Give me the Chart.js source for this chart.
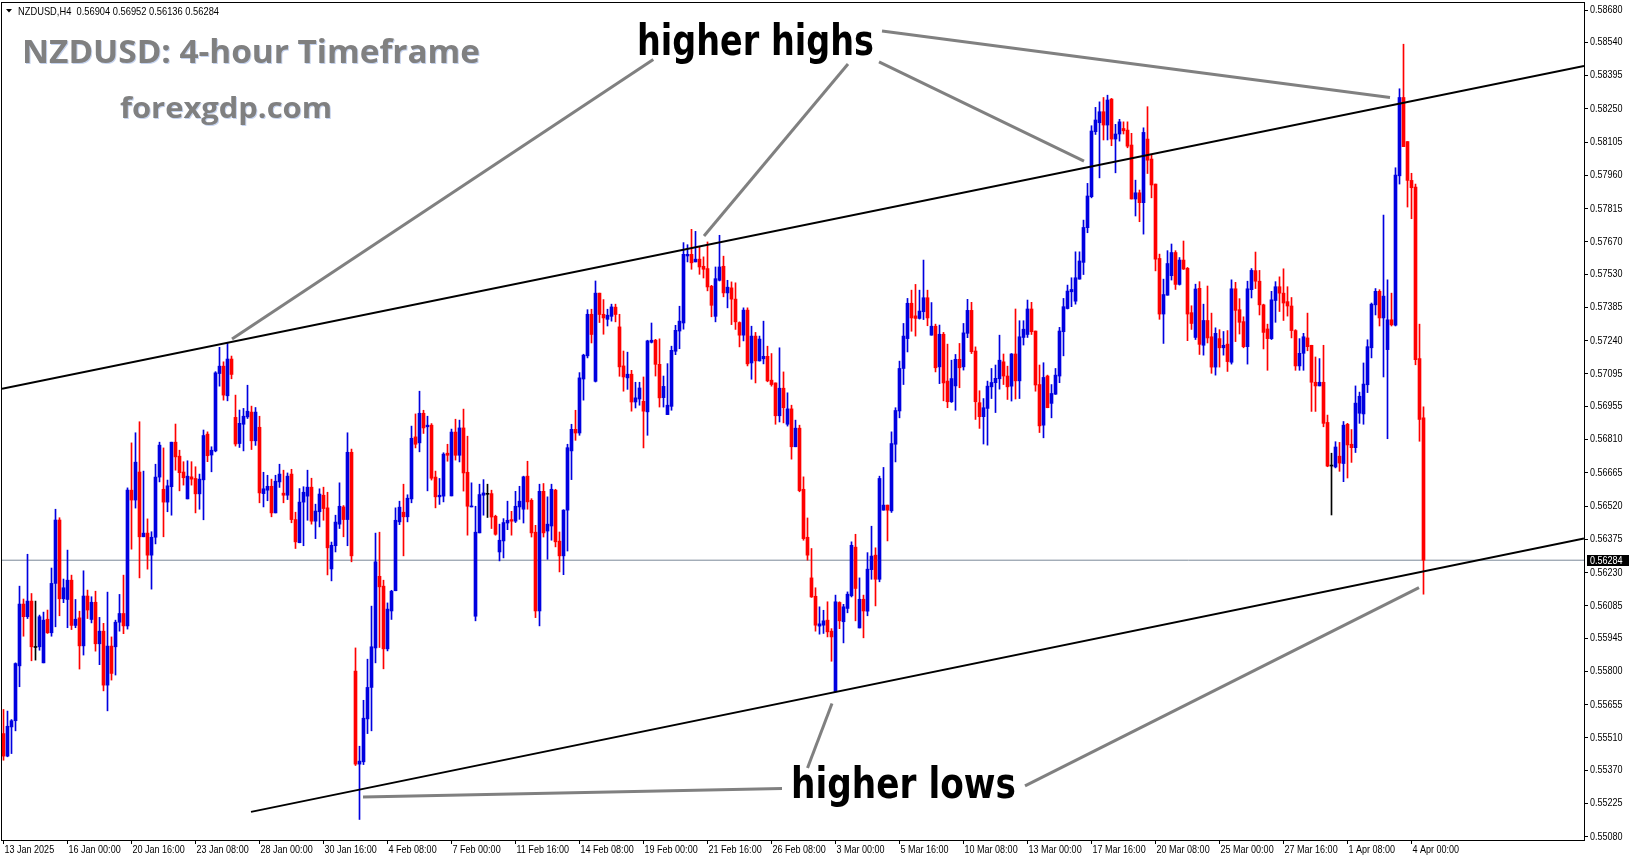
<!DOCTYPE html>
<html>
<head>
<meta charset="utf-8">
<title>NZDUSD H4</title>
<script src="https://cdn.jsdelivr.net/npm/chart.js@4.4.1/dist/chart.umd.min.js"></script>
<style>
  html, body { margin: 0; padding: 0; background: #fff; }
  #wrap { width: 1631px; height: 861px; }
</style>
</head>
<body>
<div id="wrap"><canvas id="nzdusd" width="1631" height="861"></canvas></div>
<script>
// NZDUSD H4 candles, prices in points (1 point = 0.00001)
const symbol = "NZDUSD,H4";

const openPts = [
  55529,55431,55558,55585,55824,56093,56038,56106,55904,55907,
  55837,56027,55968,56183,56459,56116,56113,56197,56000,56033,
  55911,56128,56026,56101,55920,55975,55740,55910,55907,56014,
  56052,55998,56589,56546,56668,56386,56402,56306,56384,56646,
  56593,56537,56604,56798,56737,56668,56551,56647,56640,56573,
  56634,56833,56742,56760,57097,57129,57000,57160,56906,56792,
  56876,56908,56929,56804,56863,56574,56589,56606,56490,56625,
  56576,56567,56659,56461,56360,56537,56563,56602,56454,56495,
  56567,56512,56246,56347,56441,56516,56461,56754,55801,55396,
  55406,55593,55730,55902,56214,56171,55898,56063,56151,56451,
  56493,56473,56551,56821,56795,56924,56865,56872,56646,56560,
  56563,56750,56564,56842,56741,56860,56667,56516,56040,56403,
  56567,56571,56574,56475,56320,56368,56446,56461,56454,56516,
  56506,56650,56545,56406,56063,56584,56411,56433,56589,56367,
  56303,56502,56760,56854,56838,57073,57174,57355,57063,57447,
  57355,57333,57346,57386,57300,57130,57078,57094,56973,56986,
  56976,56930,57233,57242,57137,56992,56918,56954,57194,57282,
  57317,57609,57616,57583,57595,57564,57554,57477,57346,57503,
  57564,57448,57470,57421,57319,57264,57373,57143,57260,57152,
  57161,57172,57068,57056,56913,57033,56876,56943,56778,56859,
  56593,56384,56207,56127,55997,56001,56023,55975,55711,56100,
  56016,56074,56129,56341,55989,56114,56062,56243,56306,56201,
  56502,56524,56499,56789,56934,57119,57249,57403,57348,57337,
  57366,57427,57264,57303,57126,57268,57064,56974,57043,57159,
  57126,57272,57372,57195,56970,56909,56945,57039,57057,57074,
  57148,57086,57042,57182,57065,57254,57267,57378,57282,57049,
  56872,57086,56967,57007,57086,57279,57380,57453,57412,57508,
  57581,57732,57867,58150,58189,58237,58179,58292,58118,58140,
  58164,58157,58092,57857,57884,57841,58118,58031,57922,57598,
  57356,57438,57523,57624,57485,57591,57555,57362,57254,57468,
  57220,57328,57257,57125,57249,57209,57225,57146,57466,57375,
  57323,57214,57462,57545,57499,57396,57291,57249,57415,57475,
  57447,57410,57391,57284,57130,57185,57252,57220,57059,57043,
  57059,56884,56694,56690,56737,56705,56876,56789,56774,56924,
  56921,57048,57209,57396,57455,57339,57201,57331,57307,57958,
  58299,58107,57938,57909,57162,56904
];

const highPts = [
  55634,55627,55590,55837,56171,56115,56310,56139,56106,56045,
  56058,56067,56250,56506,56469,56202,56328,56219,56113,56062,
  56238,56154,56125,56149,56035,56009,56145,55950,56023,56135,
  56219,56599,56795,56839,56887,56672,56464,56408,56702,56798,
  56773,56633,56798,56877,56763,56713,56717,56713,56691,56659,
  56851,56843,56778,57105,57211,57148,57228,57173,57003,56938,
  56945,57046,56955,56949,56911,56667,56654,56637,56654,56702,
  56676,56664,56680,56493,56596,56604,56676,56641,56528,56595,
  56602,56580,56363,56480,56621,56522,56839,56768,55902,55474,
  55674,55853,56084,56402,56406,56197,56098,56153,56512,56541,
  56615,56569,56868,56921,57020,56937,56911,56879,56672,56640,
  56752,56789,56855,56898,56894,56942,56824,56621,56519,56615,
  56635,56615,56589,56480,56441,56465,56541,56497,56584,56606,
  56650,56715,56552,56436,56615,56618,56560,56615,56593,56407,
  56504,56789,56876,56937,57101,57181,57375,57377,57500,57447,
  57419,57377,57399,57399,57355,57195,57190,57111,57059,57059,
  57082,57242,57317,57246,57248,57086,57140,57216,57307,57390,
  57667,57658,57725,57716,57648,57605,57670,57481,57561,57699,
  57608,57503,57496,57492,57322,57383,57383,57303,57276,57260,
  57325,57216,57184,57056,57209,57104,57013,56959,56894,56872,
  56647,56468,56335,56164,56081,56066,56103,55986,56132,56103,
  56092,56146,56364,56397,56207,56132,56317,56432,56338,56650,
  56688,56524,56843,56948,57151,57315,57424,57460,57485,57460,
  57591,57460,57406,57312,57308,57276,57225,57155,57180,57228,
  57315,57420,57407,57213,57022,56988,57064,57119,57134,57264,
  57182,57129,57184,57378,57327,57327,57417,57407,57282,57134,
  57144,57090,57049,57119,57298,57424,57482,57514,57627,57627,
  57765,57925,58176,58256,58280,58299,58309,58295,58182,58204,
  58193,58193,58143,57939,57896,58167,58259,58048,57922,57617,
  57508,57632,57661,57632,57602,57674,57559,57392,57486,57497,
  57399,57478,57360,57296,57288,57280,57284,57505,57494,57423,
  57344,57499,57554,57626,57546,57399,57312,57455,57497,57518,
  57553,57475,57428,57288,57249,57272,57360,57220,57169,57162,
  57220,56916,56750,56800,56797,56888,56880,56853,57043,57016,
  57143,57244,57404,57467,57462,57787,57505,57447,57993,58337,
  58531,58107,57969,57922,57312,56952
];

const lowPts = [
  55413,55428,55442,55541,55733,55953,56030,55846,55849,55892,
  55837,55965,55953,55994,56042,56099,55990,55982,55990,55810,
  55871,56030,56011,55888,55829,55715,55628,55762,55784,55975,
  55964,55984,56332,56511,56207,56386,56245,56158,56355,56625,
  56386,56495,56480,56676,56586,56611,56551,56611,56490,56506,
  56460,56713,56669,56756,57042,56981,56978,57074,56781,56775,
  56760,56901,56766,56784,56534,56516,56543,56473,56490,56601,
  56534,56548,56447,56335,56360,56347,56458,56441,56378,56429,
  56458,56220,56194,56320,56422,56386,56347,56277,55390,55155,
  55394,55529,55541,55837,55904,55811,55889,56026,56151,56439,
  56303,56451,56534,56773,56756,56836,56586,56633,56512,56527,
  56538,56715,56564,56720,56712,56585,56393,56516,56020,56403,
  56480,56470,56422,56393,56281,56294,56417,56393,56448,56462,
  56446,56506,56385,56034,55998,56385,56288,56371,56342,56233,
  56221,56324,56635,56806,56828,56981,57165,57230,57060,57319,
  57268,57304,57325,57322,57085,57020,57028,56933,56947,56959,
  56773,56828,57230,57086,56951,56951,56918,56937,57179,57205,
  57290,57583,57551,57583,57529,57513,57457,57344,57322,57500,
  57431,57383,57310,57289,57213,57239,57130,57072,57056,57151,
  57139,57061,57042,56876,56886,56882,56868,56724,56778,56582,
  56371,56284,56122,55975,55962,55965,55950,55844,55711,55986,
  55924,56055,56124,56020,55989,55946,56042,56201,56085,56190,
  56502,56368,56492,56712,56904,57049,57191,57281,57260,57334,
  57332,57305,57264,57104,57053,56978,56948,56971,56937,57035,
  57112,57253,57184,56897,56858,56790,56785,56988,56927,57029,
  57049,56984,56977,56986,56988,57221,57254,57267,57020,56840,
  56817,56948,56904,57006,57057,57174,57378,57388,57399,57508,
  57528,57710,57862,58138,57949,58114,58114,58089,57971,58109,
  58140,58080,57857,57783,57758,57704,57968,57862,57544,57333,
  57228,57438,57504,57463,57482,57550,57240,57289,57245,57180,
  57177,57230,57098,57090,57125,57177,57106,57138,57236,57269,
  57209,57138,57426,57467,57352,57204,57111,57245,57320,57367,
  57328,57347,57252,57111,57111,57111,57196,56932,56932,57043,
  56865,56691,56481,56686,56671,56626,56642,56710,56753,56880,
  56876,57014,57165,57352,57304,57082,56813,57304,57304,57922,
  58085,57822,57771,57135,56802,56136
];

const closePts = [
  55431,55561,55585,55834,56093,56038,56106,55907,55904,56038,
  56023,55968,56183,56459,56116,56164,56197,56000,56027,55911,
  56128,56067,56101,55920,55975,55740,55910,55791,56014,56052,
  55998,56589,56546,56711,56386,56402,56306,56384,56646,56785,
  56537,56608,56798,56734,56665,56643,56650,56637,56573,56637,
  56827,56739,56763,57100,57129,57003,57160,57093,56790,56880,
  56911,56933,56804,56929,56577,56595,56606,56490,56628,56659,
  56567,56650,56461,56364,56537,56580,56602,56454,56498,56572,
  56509,56338,56349,56450,56519,56461,56754,56303,55396,55409,
  55596,55730,55907,56277,56168,55898,56071,56149,56458,56515,
  56473,56554,56815,56789,56924,56860,56872,56641,56560,56567,
  56746,56741,56842,56741,56860,56664,56519,56519,56406,56570,
  56577,56571,56472,56397,56371,56448,56458,56454,56519,56541,
  56647,56538,56403,56063,56584,56403,56441,56593,56364,56303,
  56502,56774,56854,56838,57078,57177,57355,57267,57447,57354,
  57339,57351,57387,57354,57126,57082,57094,56973,56991,57034,
  56933,57239,57242,57137,56991,57041,56959,57198,57285,57325,
  57616,57616,57579,57595,57561,57551,57474,57394,57510,57561,
  57448,57473,57421,57322,57264,57373,57139,57260,57152,57247,
  57172,57065,57049,56913,57033,56948,56943,56778,56859,56587,
  56378,56306,56124,56001,56007,56020,55972,55950,56103,56020,
  56081,56136,56349,56161,56114,56063,56245,56302,56201,56640,
  56524,56502,56792,56936,57119,57260,57403,57339,57337,57369,
  57427,57339,57303,57122,57268,57056,56974,57075,57159,57122,
  57274,57372,57192,56974,56909,56948,57042,57058,57076,57155,
  57086,57039,57182,57065,57257,57290,57378,57279,57047,56869,
  57080,56948,57010,57090,57282,57388,57456,57463,57514,57587,
  57733,57870,58153,58201,58237,58179,58288,58118,58140,58193,
  58154,58087,57857,57884,57841,58147,58026,57918,57595,57356,
  57441,57576,57624,57485,57591,57552,57356,57315,57465,57224,
  57328,57252,57125,57272,57209,57220,57149,57466,57372,57320,
  57214,57466,57546,57499,57396,57276,57249,57418,57475,57447,
  57404,57391,57284,57130,57185,57257,57214,57059,57043,57059,
  56880,56694,56694,56777,56707,56872,56786,56774,56968,56998,
  57051,57214,57399,57455,57339,57434,57331,57309,57961,58299,
  58085,57938,57906,57157,56897,56284
];

// one label every 16 bars, starting at bar 0
const dateLabels = [
  "13 Jan 2025", "16 Jan 00:00", "20 Jan 16:00", "23 Jan 08:00", "28 Jan 00:00",
  "30 Jan 16:00", "4 Feb 08:00", "7 Feb 00:00", "11 Feb 16:00", "14 Feb 08:00",
  "19 Feb 00:00", "21 Feb 16:00", "26 Feb 08:00", "3 Mar 00:00", "5 Mar 16:00",
  "10 Mar 08:00", "13 Mar 00:00", "17 Mar 16:00", "20 Mar 08:00", "25 Mar 00:00",
  "27 Mar 16:00", "1 Apr 08:00", "4 Apr 00:00"
];

const priceTicks = [
  0.58680, 0.58540, 0.58395, 0.58250, 0.58105, 0.57960, 0.57815, 0.57670, 0.57530,
  0.57385, 0.57240, 0.57095, 0.56955, 0.56810, 0.56665, 0.56520, 0.56375, 0.56230,
  0.56085, 0.55945, 0.55800, 0.55655, 0.55510, 0.55370, 0.55225, 0.55080
];

// channel lines, [bar index, price]
const upperChannel = [[-0.375, 0.57031], [395.125, 0.58436]];
const lowerChannel = [[61.875, 0.55188], [395.125, 0.56379]];

// grey pointer lines from the captions to the touches
const highPointers = [
  [[57.125, 0.57247], [162.45, 0.58465]],
  [[175.125, 0.57696], [211.125, 0.58445]],
  [[218.875, 0.58454], [270.125, 0.58022]],
  [[219.625, 0.58589], [346.625, 0.58299]]
];
const lowPointers = [
  [[89.875, 0.55253], [194.625, 0.55290]],
  [[201.0, 0.55379], [207.125, 0.55660]],
  [[255.375, 0.55301], [353.875, 0.56165]]
];

const X_MIN = -0.375, X_MAX = 395.125;
const Y_MIN = 0.550656, Y_MAX = 0.587105;

const BULL = "#0000e0", BEAR = "#ff0000", DOJI = "#000000";
const SMALL_FONT = "11px 'Liberation Sans', Arial, sans-serif";
const SQUEEZE = 0.82; // terminal font is narrower than Liberation Sans

const toPrice = p => p / 100000;
const last = closePts.length - 1;
const lastClose = toPrice(closePts[last]);

const candleColors = closePts.map((c, i) =>
  c > openPts[i] ? BULL : (c < openPts[i] ? BEAR : DOJI));

const wickData = closePts.map((c, i) => ({ x: i, y: [toPrice(lowPts[i]), toPrice(highPts[i])] }));
const bodyData = closePts.map((c, i) => ({ x: i, y: [toPrice(openPts[i]), toPrice(c)] }));

const toXY = pts => pts.map(p => ({ x: p[0], y: p[1] }));

function segment(pts, color, width, order) {
  return {
    type: "line",
    data: toXY(pts),
    borderColor: color,
    borderWidth: width,
    pointRadius: 0,
    tension: 0,
    order: order
  };
}

function fitText(ctx, text, x, baseline, width, font, color) {
  ctx.font = font;
  const w = ctx.measureText(text).width;
  ctx.save();
  ctx.fillStyle = color;
  ctx.translate(x, baseline);
  ctx.scale(width / w, 1);
  ctx.fillText(text, 0, 0);
  ctx.restore();
}

function squeezed(ctx, text, x, y) {
  ctx.save();
  ctx.translate(x, y);
  ctx.scale(SQUEEZE, 1);
  ctx.fillText(text, 0, 0);
  ctx.restore();
}

const overlay = {
  id: "overlay",
  afterDraw(chart) {
    const ctx = chart.ctx;
    const a = chart.chartArea;
    const xs = chart.scales.x, ys = chart.scales.y;
    ctx.save();

    // plot frame
    ctx.strokeStyle = "#000";
    ctx.lineWidth = 1;
    ctx.strokeRect(a.left - 0.5, a.top - 0.5, a.right - a.left + 1, a.bottom - a.top + 1);

    // axis labels
    ctx.fillStyle = "#000";
    ctx.font = SMALL_FONT;
    ctx.textAlign = "left";
    ctx.textBaseline = "middle";
    xs.ticks.forEach((t, k) => squeezed(ctx, dateLabels[k], xs.getPixelForValue(t.value) + 1, a.bottom + 10));
    ys.ticks.forEach(t => squeezed(ctx, t.value.toFixed(5), a.right + 6, ys.getPixelForValue(t.value)));

    // header line
    ctx.beginPath();
    ctx.moveTo(6, 9); ctx.lineTo(12, 9); ctx.lineTo(9, 12.5); ctx.closePath();
    ctx.fill();
    ctx.textBaseline = "alphabetic";
    const ohlc = [openPts[last], highPts[last], lowPts[last], closePts[last]]
      .map(p => toPrice(p).toFixed(5)).join(" ");
    fitText(ctx, symbol + "  " + ohlc, 18, 15, 201, SMALL_FONT, "#000");

    // titles
    ctx.shadowColor = "rgba(90,130,210,0.35)";
    ctx.shadowOffsetX = 1;
    ctx.shadowOffsetY = 1;
    fitText(ctx, "NZDUSD: 4-hour Timeframe", 22, 63, 458, "bold 33px 'Open Sans'", "#808080");
    fitText(ctx, "forexgdp.com", 120, 118, 212, "bold 29px 'Open Sans'", "#808080");
    ctx.shadowColor = "transparent";

    fitText(ctx, "higher highs", 637, 55, 237, "bold 42px 'DejaVu Sans'", "#000");
    fitText(ctx, "higher lows", 791, 798, 225, "bold 42px 'DejaVu Sans'", "#000");

    // current price tag on the axis
    const y = Math.round(ys.getPixelForValue(lastClose));
    ctx.fillStyle = "#000";
    ctx.fillRect(a.right + 3, y - 5, 42, 11);
    ctx.fillStyle = "#fff";
    ctx.font = SMALL_FONT;
    ctx.textBaseline = "middle";
    squeezed(ctx, lastClose.toFixed(5), a.right + 6, y + 0.5);

    ctx.restore();
  }
};

const datasets = [
  {
    type: "bar",
    data: wickData,
    backgroundColor: candleColors,
    barThickness: 1,
    grouped: false,
    borderWidth: 0,
    order: 3
  },
  {
    type: "bar",
    data: bodyData,
    backgroundColor: candleColors,
    barThickness: 3,
    minBarLength: 1,
    grouped: false,
    borderWidth: 0,
    order: 2
  },
  segment([[X_MIN, lastClose], [X_MAX, lastClose]], "#7a8898", 1, 4),
  segment(upperChannel, "#000", 2, 1),
  segment(lowerChannel, "#000", 2, 1)
];
highPointers.concat(lowPointers).forEach(p => datasets.push(segment(p, "#808080", 3, 0)));

new Chart(document.getElementById("nzdusd"), {
  type: "bar",
  data: { datasets: datasets },
  options: {
    responsive: false,
    animation: false,
    devicePixelRatio: 1,
    layout: { padding: { left: 2, top: 3, right: 0, bottom: 0 } },
    plugins: {
      legend: { display: false },
      tooltip: { enabled: false }
    },
    scales: {
      x: {
        type: "linear",
        min: X_MIN,
        max: X_MAX,
        offset: false,
        grid: { drawOnChartArea: false, drawTicks: true, tickLength: 4, color: "#000", offset: false },
        border: { display: true, color: "#000" },
        ticks: { display: false, autoSkip: false, maxRotation: 0 },
        afterBuildTicks: s => { s.ticks = dateLabels.map((_, k) => ({ value: k * 16 })); },
        afterFit: s => { s.height = 21; s.paddingLeft = 0; s.paddingRight = 0; }
      },
      y: {
        position: "right",
        min: Y_MIN,
        max: Y_MAX,
        grid: { drawOnChartArea: false, drawTicks: true, tickLength: 4, color: "#000" },
        border: { display: true, color: "#000" },
        ticks: { display: false, autoSkip: false },
        afterBuildTicks: s => { s.ticks = priceTicks.map(v => ({ value: v })); },
        afterFit: s => { s.width = 47; s.paddingTop = 0; s.paddingBottom = 0; }
      }
    }
  },
  plugins: [overlay]
});
</script>
</body>
</html>
